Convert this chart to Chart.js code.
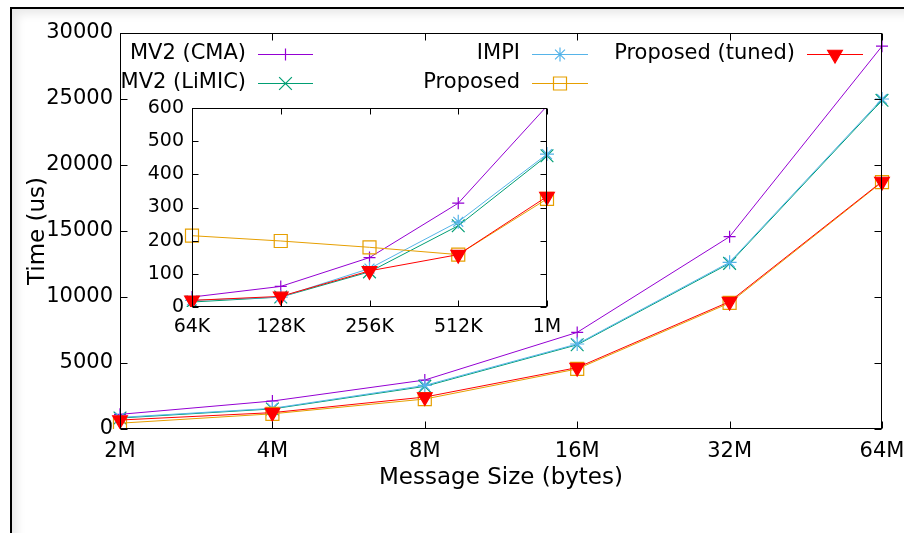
<!DOCTYPE html>
<html>
<head>
<meta charset="utf-8">
<title>Message size vs time</title>
<script src="https://cdn.jsdelivr.net/npm/chart.js@4.4.1/dist/chart.umd.min.js"></script>
<style>
  html, body { margin: 0; padding: 0; background: #fff; }
  #page { position: relative; width: 904px; height: 533px; overflow: hidden; background: #fff; }
  #frame {
    position: absolute; left: 10px; top: 7px; right: -20px; bottom: -20px;
    border-left: 2px solid #000; border-top: 2px solid #000;
    box-shadow: inset 10px 10px 10px -5px rgba(0, 0, 0, 0.09);
  }
  #main { position: absolute; left: 0; top: 0; }
  #inset { position: absolute; left: 130px; top: 95px; }
</style>
</head>
<body>
<div id="page">
  <div id="frame"></div>
  <canvas id="main" width="904" height="533"></canvas>
  <canvas id="inset" width="440" height="240"></canvas>
</div>
<script>
// Large messages (main plot)
const sizes = ['2M', '4M', '8M', '16M', '32M', '64M'];
const mv2Cma = [1110, 2120, 3710, 7320, 14570, 29000];
const mv2Limic = [830, 1520, 3230, 6380, 12550, 24900];
const impi = [880, 1565, 3300, 6440, 12630, 25000];
const proposed = [440, 1150, 2270, 4550, 9550, 18700];
const proposedTuned = [680, 1240, 2420, 4650, 9650, 18750];

// Small messages (inset)
const smallSizes = ['64K', '128K', '256K', '512K', '1M'];
const smallCma = [30, 62, 149, 313, 606];
const smallLimic = [15, 30, 106, 245, 456];
const smallImpi = [20, 30, 116, 257, 461];
const smallProposed = [215, 199, 180, 158, 326];
const smallTuned = [20, 32, 109, 158, 333];

const seriesNames = ['MV2 (CMA)', 'MV2 (LiMIC)', 'IMPI', 'Proposed', 'Proposed (tuned)'];

const FONT = "'DejaVu Sans', 'Liberation Sans', sans-serif";

// Visual style of each series, in the same order as seriesNames
const seriesStyles = [
  { color: '#9400d3', pointStyle: 'cross',    radius: 6,   rotation: 0,   filled: false },
  { color: '#009e73', pointStyle: 'crossRot', radius: 9,   rotation: 0,   filled: false },
  { color: '#56b4e9', pointStyle: 'star',     radius: 7,   rotation: 0,   filled: false },
  { color: '#e69f00', pointStyle: 'rect',     radius: 9.2, rotation: 0,   filled: false },
  { color: '#ff0000', pointStyle: 'triangle', radius: 8.5, rotation: 180, filled: true }
];

function buildDatasets(seriesData) {
  return seriesData.map((values, i) => {
    const s = seriesStyles[i];
    return {
      label: seriesNames[i],
      data: values,
      borderColor: s.color,
      backgroundColor: s.filled ? s.color : 'rgba(0,0,0,0)',
      borderWidth: 1,
      pointStyle: s.pointStyle,
      pointRotation: s.rotation,
      pointBorderColor: s.color,
      pointBackgroundColor: s.filled ? s.color : 'rgba(0,0,0,0)',
      pointBorderWidth: 1.2,
      // markers beyond the top of the value range are not drawn
      pointRadius: (ctx) => {
        const yScale = ctx.chart.scales.y;
        return (ctx.raw > yScale.max) ? 0 : s.radius;
      },
      pointHoverRadius: s.radius,
      tension: 0,
      fill: false,
      order: seriesNames.length - i
    };
  });
}

// Plot frame with inward tick marks on all four sides
const frameTicks = {
  id: 'frameTicks',
  afterDatasetsDraw(chart, args, opts) {
    const { ctx, chartArea: a, scales: { x, y } } = chart;
    const len = opts.len || 7;
    const L = Math.round(a.left) + 0.5, R = Math.round(a.right) - 0.5;
    const T = Math.round(a.top) + 0.5, B = Math.round(a.bottom) - 0.5;
    ctx.save();
    ctx.strokeStyle = '#000';
    ctx.lineWidth = 1;
    ctx.beginPath();
    y.ticks.forEach((t, i) => {
      const py = Math.round(y.getPixelForTick(i)) + 0.5;
      ctx.moveTo(L, py); ctx.lineTo(L + len, py);
      ctx.moveTo(R, py); ctx.lineTo(R - len, py);
    });
    x.ticks.forEach((t, i) => {
      const px = Math.round(x.getPixelForTick(i)) + 0.5;
      ctx.moveTo(px, B); ctx.lineTo(px, B - len);
      ctx.moveTo(px, T); ctx.lineTo(px, T + len);
    });
    ctx.stroke();
    ctx.strokeRect(L, T, R - L, B - T);
    ctx.restore();
  }
};

// Key: right-aligned names followed by a line sample with its marker
const keyBox = {
  id: 'keyBox',
  afterDraw(chart, args, opts) {
    const { ctx } = chart;
    opts.items.forEach(it => {
      const s = seriesStyles[it.series];
      ctx.save();
      ctx.font = '21px ' + FONT;
      ctx.textAlign = 'right';
      ctx.textBaseline = 'middle';
      ctx.fillStyle = '#000';
      ctx.fillText(seriesNames[it.series], it.textRight, it.y);
      const y = Math.round(it.y) + 0.5;
      ctx.beginPath();
      ctx.strokeStyle = s.color;
      ctx.lineWidth = 1;
      ctx.moveTo(it.lineFrom, y);
      ctx.lineTo(it.lineTo, y);
      ctx.stroke();
      ctx.fillStyle = s.filled ? s.color : 'rgba(0,0,0,0)';
      ctx.strokeStyle = s.color;
      ctx.lineWidth = 1.2;
      Chart.helpers.drawPoint(ctx, {
        pointStyle: s.pointStyle,
        radius: s.radius,
        rotation: s.rotation,
        borderWidth: 1.2
      }, (it.lineFrom + it.lineTo) / 2, y);
      ctx.restore();
    });
  }
};

Chart.defaults.color = '#000';
Chart.defaults.font.family = FONT;

const plainNumber = (v) => String(v);

new Chart(document.getElementById('main'), {
  type: 'line',
  data: {
    labels: sizes,
    datasets: buildDatasets([mv2Cma, mv2Limic, impi, proposed, proposedTuned])
  },
  options: {
    responsive: false,
    animation: false,
    devicePixelRatio: 1,
    events: [],
    layout: { padding: { top: 33, right: 22, left: 0, bottom: 0 } },
    plugins: {
      legend: { display: false },
      tooltip: { enabled: false },
      frameTicks: { len: 7 },
      keyBox: {
        items: [
          { series: 0, textRight: 246, lineFrom: 258, lineTo: 313, y: 54 },
          { series: 1, textRight: 246, lineFrom: 258, lineTo: 313, y: 83 },
          { series: 2, textRight: 520, lineFrom: 532, lineTo: 588, y: 54 },
          { series: 3, textRight: 520, lineFrom: 532, lineTo: 588, y: 83 },
          { series: 4, textRight: 795, lineFrom: 807, lineTo: 863, y: 54 }
        ]
      }
    },
    scales: {
      x: {
        type: 'category',
        offset: false,
        grid: { display: false, drawTicks: false },
        border: { display: false },
        ticks: { font: { size: 21 }, color: '#000', padding: 10, maxRotation: 0, autoSkip: false },
        title: {
          display: true, text: 'Message Size (bytes)', color: '#000',
          font: { size: 23 }, padding: { top: 0, bottom: 41 }
        },
        afterFit(s) { s.height = 104; s.paddingLeft = 0; s.paddingRight = 0; }
      },
      y: {
        min: 0, max: 30000,
        grid: { display: false, drawTicks: false },
        border: { display: false },
        ticks: { stepSize: 5000, font: { size: 21 }, color: '#000', padding: 7, callback: plainNumber },
        title: {
          display: true, text: 'Time (us)', color: '#000',
          font: { size: 23 }, padding: { top: 24, bottom: 0 }
        },
        afterFit(s) { s.width = 120; s.paddingTop = 0; s.paddingBottom = 0; }
      }
    }
  },
  plugins: [frameTicks, keyBox]
});

new Chart(document.getElementById('inset'), {
  type: 'line',
  data: {
    labels: smallSizes,
    datasets: buildDatasets([smallCma, smallLimic, smallImpi, smallProposed, smallTuned])
  },
  options: {
    responsive: false,
    animation: false,
    devicePixelRatio: 1,
    events: [],
    layout: { padding: { top: 13, right: 23, left: 0, bottom: 0 } },
    plugins: {
      legend: { display: false },
      tooltip: { enabled: false },
      frameTicks: { len: 6 }
    },
    scales: {
      x: {
        type: 'category',
        offset: false,
        grid: { display: false, drawTicks: false },
        border: { display: false },
        ticks: { font: { size: 19 }, color: '#000', padding: 9, maxRotation: 0, autoSkip: false },
        afterFit(s) { s.height = 28; s.paddingLeft = 0; s.paddingRight = 0; }
      },
      y: {
        min: 0, max: 600,
        grid: { display: false, drawTicks: false },
        border: { display: false },
        ticks: { stepSize: 100, font: { size: 19 }, color: '#000', padding: 8, callback: plainNumber },
        afterFit(s) { s.width = 62; s.paddingTop = 0; s.paddingBottom = 0; }
      }
    }
  },
  plugins: [frameTicks]
});
</script>
</body>
</html>
